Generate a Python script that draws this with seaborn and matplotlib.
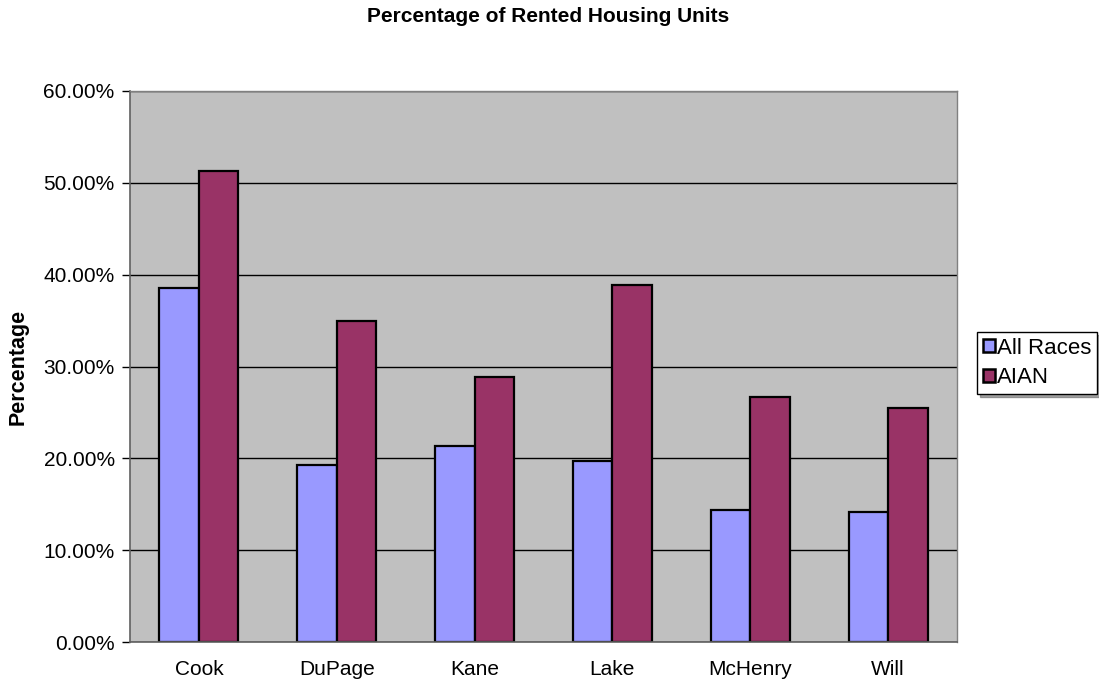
import matplotlib
matplotlib.use("Agg")
import matplotlib.pyplot as plt
import pandas as pd
import seaborn as sns
from matplotlib.patches import Patch
from matplotlib.ticker import PercentFormatter

# Data
counties = ["Cook", "DuPage", "Kane", "Lake", "McHenry", "Will"]
all_races = [38.54, 19.30, 21.34, 19.67, 14.38, 14.13]
aian = [51.34, 34.92, 28.87, 38.84, 26.70, 25.47]
series_names = ["All Races", "AIAN"]
colors = ["#9999FF", "#993366"]

df = pd.DataFrame({"county": counties * 2,
                   "group": [series_names[0]] * 6 + [series_names[1]] * 6,
                   "value": all_races + aian})

sns.set_style("white")
plt.rcParams['font.family'] = ['Liberation Sans', 'DejaVu Sans']
plt.rcParams['text.color'] = 'black'
plt.rcParams['axes.labelcolor'] = 'black'
plt.rcParams['xtick.color'] = 'black'
plt.rcParams['ytick.color'] = 'black'

fig = plt.figure(figsize=(10.99, 6.87), dpi=100)
ax = fig.add_axes([130 / 1099, 45 / 687, 827 / 1099, 551 / 687])
ax.set_facecolor("#C0C0C0")

sns.barplot(data=df, x="county", y="value", hue="group", order=counties,
            hue_order=series_names, palette=colors, width=0.574, gap=0,
            saturation=1, edgecolor="black", linewidth=1.6, ax=ax, legend=False)

ax.set_ylim(0, 60)
ax.set_xlim(-0.5, 5.5)
ax.set_yticks(range(0, 61, 10))
ax.yaxis.set_major_formatter(PercentFormatter(decimals=2))
ax.yaxis.grid(True, color="black", linewidth=1)
ax.set_axisbelow(True)

# ticks between categories
ax.set_xticks([i - 0.5 for i in range(7)], minor=True)
ax.tick_params(axis="x", which="major", length=0, pad=13, labelsize=15)
ax.tick_params(axis="x", which="minor", length=6, width=1, color="black", direction="out")
ax.tick_params(axis="y", length=6, width=1, color="black", direction="out",
               pad=5, labelsize=15, left=True)

for side in ["top", "right"]:
    ax.spines[side].set_color("#808080")
    ax.spines[side].set_linewidth(1)
for side in ["left", "bottom"]:
    ax.spines[side].set_color("#606060")
    ax.spines[side].set_linewidth(1.2)

ax.set_xlabel("")
ax.set_ylabel("Percentage", fontsize=15.5, fontweight="bold", va="center")
ax.yaxis.set_label_coords((18 - 130) / 827, 0.5)
fig.suptitle("Percentage of Rented Housing Units", fontsize=15, fontweight="bold",
             x=548 / 1099, y=1 - 17 / 687, va="center")

handles = [Patch(facecolor=c, edgecolor="black", linewidth=1.8) for c in colors]
leg = fig.legend(handles, series_names, loc="upper left",
                 bbox_to_anchor=(977 / 1099, 1 - 332 / 687), fontsize=16,
                 frameon=True, fancybox=False, shadow=True, borderpad=0.25,
                 handlelength=0.55, handleheight=0.55, handletextpad=0.1,
                 labelspacing=0.4, borderaxespad=0)
leg.get_frame().set_edgecolor("black")
leg.get_frame().set_linewidth(1)

fig.savefig("out.png", dpi=100)
